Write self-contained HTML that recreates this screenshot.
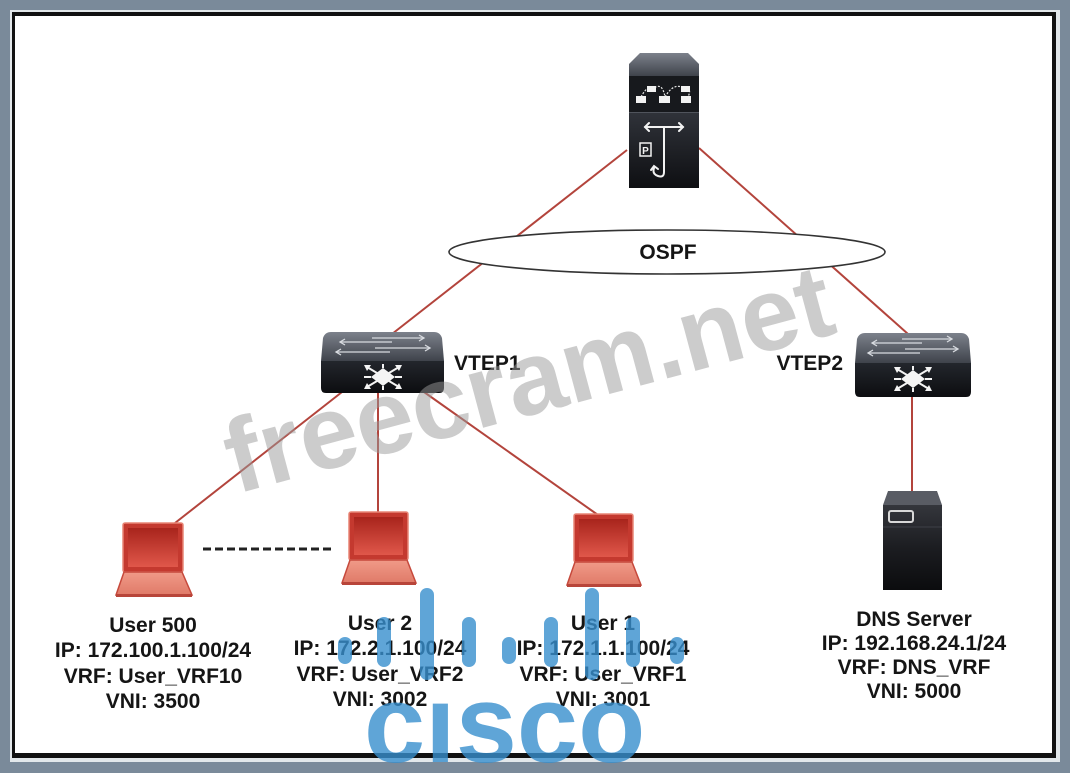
<!DOCTYPE html>
<html><head><meta charset="utf-8"><style>
html,body{margin:0;padding:0;background:#7a8a9a;}
svg{display:block;}
text{font-family:"Liberation Sans",Arial,sans-serif;font-weight:bold;}
</style></head><body>
<svg width="1070" height="773" viewBox="0 0 1070 773" xmlns="http://www.w3.org/2000/svg">
<defs>
<linearGradient id="gTop" x1="0" y1="0" x2="0" y2="1"><stop offset="0" stop-color="#7c818b"/><stop offset="1" stop-color="#3f434b"/></linearGradient>
<linearGradient id="gFront" x1="0" y1="0" x2="0" y2="1"><stop offset="0" stop-color="#23262c"/><stop offset="1" stop-color="#0c0d10"/></linearGradient>
<linearGradient id="gSpine" x1="0" y1="0" x2="0" y2="1"><stop offset="0" stop-color="#30333a"/><stop offset="1" stop-color="#0e0f12"/></linearGradient>
<linearGradient id="gSrv" x1="0" y1="0" x2="0" y2="1"><stop offset="0" stop-color="#34363c"/><stop offset="0.5" stop-color="#1c1d21"/><stop offset="1" stop-color="#0b0c0e"/></linearGradient>
<linearGradient id="gScr" x1="0" y1="0" x2="0" y2="1"><stop offset="0" stop-color="#a8241c"/><stop offset="1" stop-color="#e0574a"/></linearGradient>
<linearGradient id="gBase" x1="0" y1="0" x2="0" y2="1"><stop offset="0" stop-color="#f09a88"/><stop offset="1" stop-color="#e07a68"/></linearGradient>
</defs>

<!-- frame -->
<rect x="0" y="0" width="1070" height="773" fill="#7a8a9a"/>
<rect x="10" y="10" width="1050" height="752" fill="#e2e7ea"/>
<rect x="12" y="12" width="1044" height="746" fill="#111"/>
<rect x="15" y="16" width="1037" height="737" fill="#fff"/>

<!-- connectors -->
<g stroke="#b3443c" stroke-width="2" fill="none">
<line x1="627" y1="150" x2="392" y2="334"/>
<line x1="699" y1="148" x2="908" y2="334"/>
<line x1="342" y1="392" x2="175" y2="523"/>
<line x1="378" y1="392" x2="378" y2="512"/>
<line x1="424" y1="392" x2="598" y2="515"/>
<line x1="912" y1="396" x2="912" y2="491"/>
</g>

<!-- OSPF ellipse -->
<ellipse cx="667" cy="252" rx="218" ry="22" fill="#fff" stroke="#333" stroke-width="1.6"/>
<text x="668" y="259" font-size="21" text-anchor="middle" fill="#151515">OSPF</text>

<!-- spine device -->
<g>
<polygon points="640,53 688,53 699,64 699,76 629,76 629,64" fill="url(#gTop)"/>
<rect x="629" y="76" width="70" height="36" fill="#17191d"/>
<g stroke="#e8e8e8" stroke-width="1.2" fill="none" stroke-dasharray="2 1.5">
<path d="M641,97 Q648,84 652,90"/><path d="M652,90 Q662,80 665,97"/><path d="M665,97 Q675,80 686,90"/><path d="M686,90 Q692,88 688,97"/>
</g>
<g fill="#f2f2f2">
<rect x="636" y="96" width="10" height="7"/><rect x="659" y="96" width="11" height="7"/><rect x="681" y="96" width="10" height="7"/>
<rect x="647" y="86" width="9" height="6"/><rect x="681" y="86" width="9" height="6"/>
</g>
<rect x="629" y="112" width="70" height="76" fill="url(#gSpine)"/>
<line x1="629" y1="112.5" x2="699" y2="112.5" stroke="#50545c" stroke-width="1"/>
<g stroke="#f2f2f2" stroke-width="2" fill="none" stroke-linecap="round">
<line x1="645" y1="127" x2="683" y2="127"/>
<polyline points="649,123 645,127 649,131"/><polyline points="679,123 683,127 679,131"/>
<path d="M664,127 L664,172 Q664,178 658,176 Q652,174 654,168"/>
<polyline points="651,170 654,166 658,169"/>
<rect x="640" y="143" width="11" height="13" stroke-width="1.5"/>
</g>
<text x="645.5" y="154" font-size="10" text-anchor="middle" fill="#f2f2f2">P</text>
</g>

<!-- VTEP1 switch -->
<g>
<path d="M331,332 L434,332 Q440,332 442,338 L444,361 L321,361 L323,338 Q325,332 331,332 Z" fill="url(#gTop)"/>
<g stroke="#d8dbe0" stroke-width="1.3" fill="none">
<line x1="340" y1="342" x2="392" y2="342"/><polyline points="345,339 340,342 345,345"/>
<line x1="372" y1="338" x2="424" y2="338"/><polyline points="419,335 424,338 419,341"/>
<line x1="336" y1="352" x2="390" y2="352"/><polyline points="341,349 336,352 341,355"/>
<line x1="375" y1="348" x2="430" y2="348"/><polyline points="425,345 430,348 425,351"/>
</g>
<path d="M321,361 L444,361 L444,388 Q444,393 439,393 L326,393 Q321,393 321,388 Z" fill="url(#gFront)"/>
<g transform="translate(383,377)">
<polygon points="0,-9 12,0 0,9 -12,0" fill="#f4f4f4"/>
<g stroke="#f4f4f4" stroke-width="2" fill="none">
<path d="M-6,-4 L-16,-10 M6,-4 L16,-10 M-6,4 L-16,10 M6,4 L16,10"/>
<path d="M0,-9 L0,-13 M0,9 L0,13 M-12,0 L-19,0 M12,0 L19,0"/>
</g>
<g fill="#f4f4f4">
<polygon points="-19,-12 -12,-12 -16,-6"/><polygon points="19,-12 12,-12 16,-6"/>
<polygon points="-19,12 -12,12 -16,6"/><polygon points="19,12 12,12 16,6"/>
</g>
</g>
</g>
<text x="454" y="370" font-size="21" fill="#151515">VTEP1</text>

<!-- VTEP2 switch -->
<g>
<path d="M865,333 L961,333 Q967,333 969,339 L971,363 L855,363 L857,339 Q859,333 865,333 Z" fill="url(#gTop)"/>
<g stroke="#d8dbe0" stroke-width="1.3" fill="none">
<line x1="872" y1="343" x2="922" y2="343"/><polyline points="877,340 872,343 877,346"/>
<line x1="902" y1="339" x2="952" y2="339"/><polyline points="947,336 952,339 947,342"/>
<line x1="868" y1="353" x2="920" y2="353"/><polyline points="873,350 868,353 873,356"/>
<line x1="905" y1="349" x2="958" y2="349"/><polyline points="953,346 958,349 953,352"/>
</g>
<path d="M855,363 L971,363 L971,392 Q971,397 966,397 L860,397 Q855,397 855,392 Z" fill="url(#gFront)"/>
<g transform="translate(913,379)">
<polygon points="0,-9 12,0 0,9 -12,0" fill="#f4f4f4"/>
<g stroke="#f4f4f4" stroke-width="2" fill="none">
<path d="M-6,-4 L-16,-10 M6,-4 L16,-10 M-6,4 L-16,10 M6,4 L16,10"/>
<path d="M0,-9 L0,-13 M0,9 L0,13 M-12,0 L-19,0 M12,0 L19,0"/>
</g>
<g fill="#f4f4f4">
<polygon points="-19,-12 -12,-12 -16,-6"/><polygon points="19,-12 12,-12 16,-6"/>
<polygon points="-19,12 -12,12 -16,6"/><polygon points="19,12 12,12 16,6"/>
</g>
</g>
</g>
<text x="843" y="370" font-size="21" text-anchor="end" fill="#151515">VTEP2</text>

<!-- DNS server -->
<g>
<polygon points="888,491 937,491 942,505 883,505" fill="#595c64"/>
<rect x="883" y="505" width="59" height="85" fill="url(#gSrv)"/>
<line x1="883" y1="527" x2="942" y2="527" stroke="#3e4047" stroke-width="1"/>
<rect x="889" y="511" width="24" height="11" rx="2" fill="none" stroke="#d8d8d8" stroke-width="2"/>
</g>

<!-- laptops -->
<g>
<rect x="123" y="523" width="60" height="49" rx="2" fill="#c4392f" stroke="#e88676" stroke-width="1.5"/>
<rect x="128" y="528" width="50" height="39" fill="url(#gScr)"/>
<polygon points="124,572 182,572 192,595 116,595" fill="url(#gBase)" stroke="#c6493c" stroke-width="1.5"/>
<rect x="116" y="594" width="76" height="3" fill="#b8453a"/>
</g>
<g>
<rect x="349" y="512" width="59" height="48" rx="2" fill="#c4392f" stroke="#e88676" stroke-width="1.5"/>
<rect x="354" y="517" width="49" height="38" fill="url(#gScr)"/>
<polygon points="350,560 407,560 416,583 342,583" fill="url(#gBase)" stroke="#c6493c" stroke-width="1.5"/>
<rect x="342" y="582" width="74" height="3" fill="#b8453a"/>
</g>
<g>
<rect x="574" y="514" width="59" height="48" rx="2" fill="#c4392f" stroke="#e88676" stroke-width="1.5"/>
<rect x="579" y="519" width="49" height="38" fill="url(#gScr)"/>
<polygon points="575,562 632,562 641,585 567,585" fill="url(#gBase)" stroke="#c6493c" stroke-width="1.5"/>
<rect x="567" y="584" width="74" height="3" fill="#b8453a"/>
</g>

<!-- dashed line -->
<line x1="203" y1="549" x2="334" y2="549" stroke="#222" stroke-width="3" stroke-dasharray="8 4"/>

<!-- labels -->
<g font-size="21" text-anchor="middle" fill="#151515">
<text x="153" y="632">User 500</text>
<text x="153" y="657">IP: 172.100.1.100/24</text>
<text x="153" y="683">VRF: User_VRF10</text>
<text x="153" y="708">VNI: 3500</text>

<text x="380" y="630">User 2</text>
<text x="380" y="655">IP: 172.2.1.100/24</text>
<text x="380" y="681">VRF: User_VRF2</text>
<text x="380" y="706">VNI: 3002</text>

<text x="603" y="630">User 1</text>
<text x="603" y="655">IP: 172.1.1.100/24</text>
<text x="603" y="681">VRF: User_VRF1</text>
<text x="603" y="706">VNI: 3001</text>

<text x="914" y="626">DNS Server</text>
<text x="914" y="650">IP: 192.168.24.1/24</text>
<text x="914" y="674">VRF: DNS_VRF</text>
<text x="914" y="698">VNI: 5000</text>
</g>

<!-- watermark -->
<text x="236" y="494" font-size="104" fill="#999" fill-opacity="0.5" transform="rotate(-15 236 494)">freecram.net</text>

<!-- cisco logo -->
<g fill="rgb(55,142,205)" fill-opacity="0.8">
<rect x="338" y="637" width="14" height="27" rx="7"/>
<rect x="377" y="617" width="14" height="50" rx="7"/>
<rect x="420" y="588" width="14" height="92" rx="7"/>
<rect x="462" y="617" width="14" height="50" rx="7"/>
<rect x="502" y="637" width="14" height="27" rx="7"/>
<rect x="544" y="617" width="14" height="50" rx="7"/>
<rect x="585" y="588" width="14" height="92" rx="7"/>
<rect x="626" y="617" width="14" height="50" rx="7"/>
<rect x="670" y="637" width="14" height="27" rx="7"/>
</g>
<svg x="0" y="702" width="1070" height="62" overflow="hidden">
<text x="364" y="60" font-size="110" fill="rgb(55,142,205)" fill-opacity="0.8">cisco</text>
</svg>
</svg>
</body></html>
